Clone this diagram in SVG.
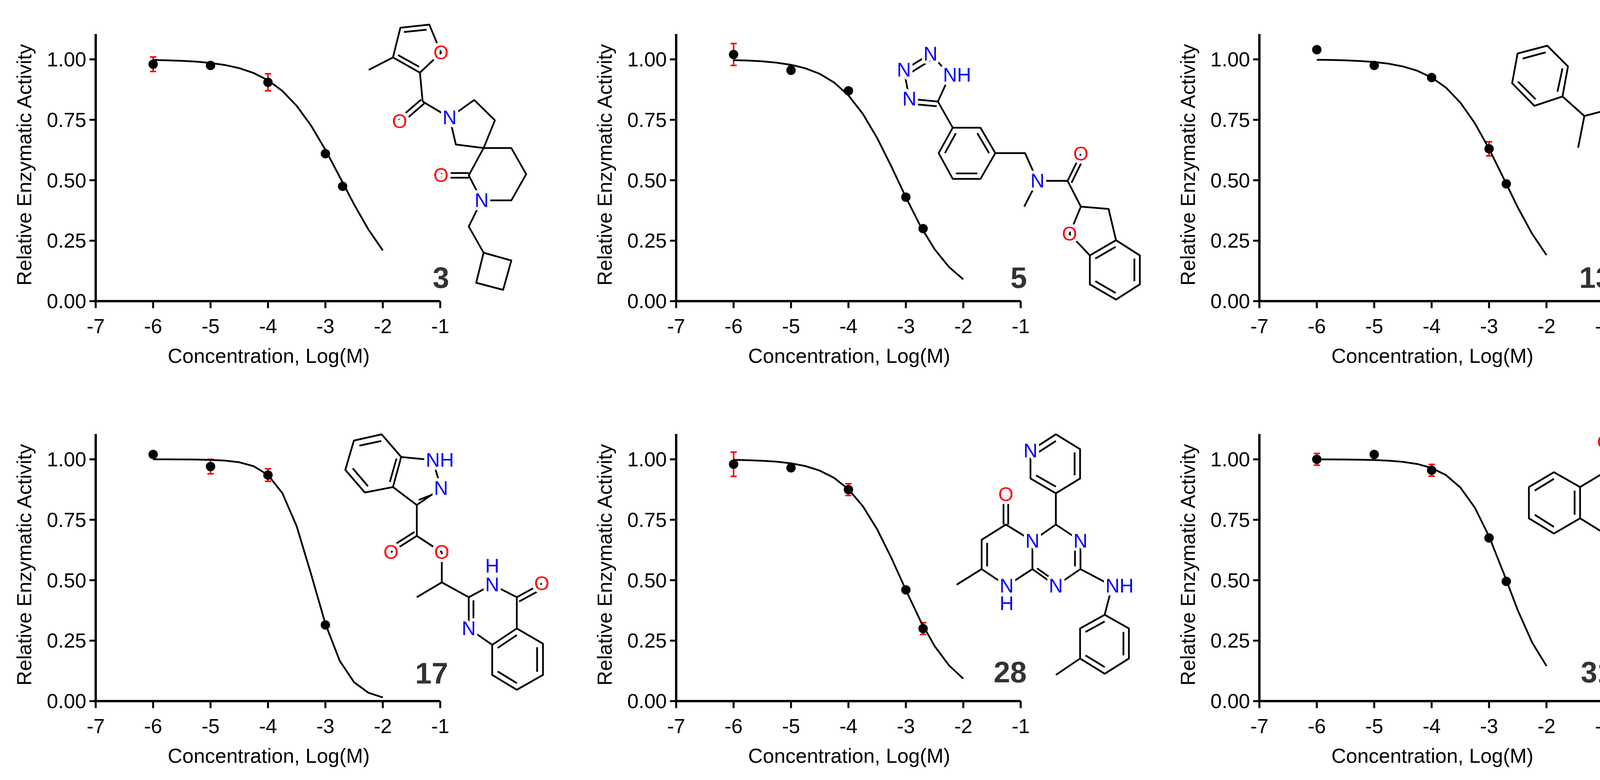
<svg xmlns="http://www.w3.org/2000/svg" width="4451" height="1997" viewBox="0 0 4451 1997">
<style>
text{font-family:"Liberation Sans",Arial,sans-serif}
.ax{stroke:#000;stroke-width:6;fill:none}
.tk{stroke:#000;stroke-width:5;fill:none}
.tl{font-size:52px;fill:#000}
.ty{text-anchor:end}
.tx{text-anchor:middle}
.tt{font-size:52px;text-anchor:middle;fill:#000}
.num{font-size:76px;font-weight:bold;fill:#333;text-anchor:middle}
.cv{stroke:#000;stroke-width:4.5;fill:none}
.eb{stroke:#f00;stroke-width:4;fill:none}
.dot{fill:#000}
.bd{stroke:#000;stroke-width:4.5;fill:none;stroke-linejoin:round}
.at{font-size:50px;dominant-baseline:central;stroke:#fff;stroke-width:16px;paint-order:stroke;stroke-linejoin:round}
.N{fill:#00f}.O{fill:#f00}
.m{text-anchor:middle}.s{text-anchor:start}.e{text-anchor:end}
</style>
<defs>
<g id="axes">
<path class="ax" d="M0,-684V0H882"/>
<path class="tk" d="M-16,0H0M-16,-154.75H0M-16,-309.5H0M-16,-464.25H0M-16,-619H0M0,0V18M147,0V18M294,0V18M441,0V18M588,0V18M735,0V18M882,0V18"/>
<g class="tl ty">
<text x="-24" y="18">0.00</text><text x="-24" y="-136.75">0.25</text><text x="-24" y="-291.5">0.50</text><text x="-24" y="-446.25">0.75</text><text x="-24" y="-601">1.00</text>
</g>
<g class="tl tx">
<text x="0" y="82">-7</text><text x="147" y="82">-6</text><text x="294" y="82">-5</text><text x="441" y="82">-4</text><text x="588" y="82">-3</text><text x="735" y="82">-2</text><text x="882" y="82">-1</text>
</g>
<text class="tt" x="443" y="158">Concentration, Log(M)</text>
<text class="tt" transform="translate(-165,-349) rotate(-90)">Relative Enzymatic Activity</text>
</g>
</defs>

<g id="panel-3" transform="translate(245,771)">
<use href="#axes"/>
<path class="eb" d="M147,-625.2V-588M139,-625.2H155M139,-588H155M441,-581.9V-538.5M433,-581.9H449M433,-538.5H449"/>
<path class="cv" d="M147,-617.5L183.75,-616.6L220.5,-615.3L257.25,-613.2L294,-609.8L330.75,-604.6L367.5,-596.5L404.25,-584.1L441,-565.5L477.75,-538.3L514.5,-500L551.25,-449.5L588,-387.6L624.75,-318.1L661.5,-247.6L698.25,-183.3L735,-129.9"/>
<g class="dot"><circle cx="147" cy="-606.6" r="12"/><circle cx="294" cy="-603.5" r="12"/><circle cx="441" cy="-560.2" r="12"/><circle cx="588" cy="-377.6" r="12"/><circle cx="632.1" cy="-294" r="12"/></g>
<text class="num" x="884" y="-34">3</text>
</g>

<g id="panel-5" transform="translate(1731,771)">
<use href="#axes"/>
<path class="eb" d="M147,-659.4V-603.4M139,-659.4H155M139,-603.4H155M294,-603.1V-579.1M286,-603.1H302"/>
<path class="cv" d="M147,-617.1L183.75,-615.9L220.5,-613.9L257.25,-610.5L294,-605L330.75,-596.2L367.5,-582L404.25,-560L441,-526.8L477.75,-479.7L514.5,-417.7L551.25,-343.9L588,-266L624.75,-193.3L661.5,-133L698.25,-87.6L735,-55.9"/>
<g class="dot"><circle cx="147" cy="-631.4" r="12"/><circle cx="294" cy="-591.1" r="12"/><circle cx="441" cy="-538.5" r="12"/><circle cx="588" cy="-266.2" r="12"/><circle cx="632.1" cy="-185.7" r="12"/></g>
<text class="num" x="877" y="-34">5</text>
</g>

<g id="panel-13" transform="translate(3224,771)">
<use href="#axes"/>
<path class="eb" d="M588,-408V-372M580,-408H596M580,-372H596"/>
<path class="cv" d="M147,-618.1L183.75,-617.5L220.5,-616.5L257.25,-614.8L294,-612.2L330.75,-607.9L367.5,-600.9L404.25,-589.9L441,-572.6L477.75,-546.5L514.5,-508.3L551.25,-456.1L588,-390.3L624.75,-315.5L661.5,-240.1L698.25,-172.5L735,-118"/>
<g class="dot"><circle cx="147" cy="-643.8" r="12"/><circle cx="294" cy="-603.5" r="12"/><circle cx="441" cy="-572.6" r="12"/><circle cx="588" cy="-390" r="12"/><circle cx="632.1" cy="-300.2" r="12"/></g>
<text class="num" x="861" y="-34">13</text>
</g>

<g id="panel-17" transform="translate(245,1795)">
<use href="#axes"/>
<path class="eb" d="M294,-619V-581.8M286,-619H302M286,-581.8H302M441,-594.8V-562.8M433,-594.8H449M433,-562.8H449"/>
<path class="cv" d="M147,-619L183.75,-618.9L220.5,-618.8L257.25,-618.4L294,-617.6L330.75,-615.8L367.5,-611.5L404.25,-601.5L441,-579.1L477.75,-532.6L514.5,-447.7L551.25,-325.5L588,-197.9L624.75,-103L661.5,-48.2L698.25,-21.4L735,-9.3"/>
<g class="dot"><circle cx="147" cy="-631.4" r="12"/><circle cx="294" cy="-600.4" r="12"/><circle cx="441" cy="-578.8" r="12"/><circle cx="588" cy="-195" r="12"/></g>
<text class="num" x="860" y="-45">17</text>
</g>

<g id="panel-28" transform="translate(1731,1795)">
<use href="#axes"/>
<path class="eb" d="M147,-637.6V-575.6M139,-637.6H155M139,-575.6H155M441,-556.6V-526.6M433,-556.6H449M433,-526.6H449M632.1,-200.7V-170.7M624,-200.7H640M624,-170.7H640"/>
<path class="cv" d="M147,-617.8L183.75,-616.8L220.5,-615.3L257.25,-612.9L294,-608.7L330.75,-601.7L367.5,-590.1L404.25,-571.5L441,-542.4L477.75,-499.2L514.5,-439.8L551.25,-365.9L588,-284.6L624.75,-206.7L661.5,-141.1L698.25,-91.7L735,-57.4"/>
<g class="dot"><circle cx="147" cy="-606.6" r="12"/><circle cx="294" cy="-597.3" r="12"/><circle cx="441" cy="-541.6" r="12"/><circle cx="588" cy="-284.7" r="12"/><circle cx="632.1" cy="-185.7" r="12"/></g>
<text class="num" x="855" y="-48">28</text>
</g>

<g id="panel-31" transform="translate(3224,1795)">
<use href="#axes"/>
<path class="eb" d="M147,-634V-604M139,-634H155M139,-604H155M441,-606.1V-576.1M433,-606.1H449M433,-576.1H449"/>
<path class="cv" d="M147,-618.9L183.75,-618.8L220.5,-618.5L257.25,-618L294,-617.2L330.75,-615.6L367.5,-612.6L404.25,-607.1L441,-596.8L477.75,-578.5L514.5,-546.9L551.25,-495.9L588,-421.7L624.75,-329.1L661.5,-232.7L698.25,-150L735,-89.9"/>
<g class="dot"><circle cx="147" cy="-619" r="12"/><circle cx="294" cy="-631.4" r="12"/><circle cx="441" cy="-591.1" r="12"/><circle cx="588" cy="-417.8" r="12"/><circle cx="632.1" cy="-306.4" r="12"/></g>
<text class="num" x="865" y="-48">31</text>
</g>

<g id="mol-3">
<path class="bd" d="M944,179L1006,147M1006,147L1025,71L1099,63L1129,135L1075,186L1006,147M1034,82L1092,76M1019,141L1073,171M1075,186L1082,260M1086,265L1027,316M1078,255L1019,306M1082,260L1151,301M1151,301L1214,256L1267,308L1238,379L1167,370L1151,301M1238,379L1309,379L1347,446L1309,513L1233,513L1200,449L1238,379M1200,443L1129,443M1200,455L1129,455M1233,513L1200,580L1238,647M1238,647L1309,667L1288,742L1219,724Z"/>
<text class="at O m" x="1129" y="135">O</text><text class="at O m" x="1023" y="311">O</text><text class="at N m" x="1151" y="301">N</text><text class="at O m" x="1129" y="449">O</text><text class="at N m" x="1233" y="513">N</text>
</g>

<g id="mol-5">
<path class="bd" d="M2382,138L2432,192L2401,260L2328,253L2314,179L2382,138M2398,272L2332,266M2325,190L2386,152M2401,260L2439,327M2439,327L2510,327L2548,392L2510,458L2439,458L2403,392Z M2502,341L2532,392M2502,444L2447,444M2419,392L2447,341M2548,392L2624,392L2656,463M2656,463L2622,529M2656,463L2733,463M2733,463L2767,394M2743,468L2777,399M2733,463L2767,529L2838,535L2857,615M2767,529L2738,599L2790,654M2857,615L2918,654L2918,728L2857,767L2790,728L2790,654Z M2904,662L2904,720M2856,750L2804,720M2804,662L2856,632"/>
<text class="at N m" x="2382" y="138">N</text><text class="at N m" x="2314" y="179">N</text><text class="at N m" x="2328" y="253">N</text><text class="at N s" x="2414" y="192">NH</text><text class="at N m" x="2656" y="463">N</text><text class="at O m" x="2767" y="394">O</text><text class="at O m" x="2738" y="599">O</text>
</g>

<g id="mol-13">
<path class="bd" d="M4151,63L4222,63L4260,133L4222,204L4151,204L4113,133Z M4159,78L4214,78M4244,133L4214,189M4159,189L4129,133M4151,204L4125,279L4184,308L4246,279L4222,204M4188,318L4250,289M4184,308L4187,404M4187,404L4251,436L4315,404M4255,446L4319,414M4251,436L4251,516L4318,564L4284,638L4213,638L4189,561L4251,516M4284,638L4329,704M4292,632L4337,698M4125,279L4056,297L4040,378M4056,297L4000,247M4000,247L4014,170L3961,117L3885,137L3871,213L3928,271Z M3987,235L4000,175M3957,134L3898,150M3886,209L3931,254"/>
<text class="at N m" x="4125" y="279">N</text><text class="at N m" x="4246" y="279">N</text><text class="at N e" x="4205" y="404">HN</text><text class="at N s" x="4300" y="564">NH</text><text class="at O m" x="4315" y="404">O</text><text class="at O m" x="4329" y="704">O</text>
</g>

<g id="mol-17">
<path class="bd" d="M977,1112L906,1128L884,1203L934,1261L1006,1247L1027,1170Z M976,1129L920,1141M903,1199L942,1245M998,1234L1015,1174M1027,1170L1108,1178L1129,1250L1067,1293L1006,1247M1118,1262L1072,1280M1067,1293L1067,1372L1001,1414M1061,1362L995,1404M1067,1372L1131,1414L1131,1491L1067,1529M1131,1491L1200,1529L1260,1497L1323,1529L1387,1494M1329,1540L1393,1505M1323,1529L1323,1609M1200,1529L1200,1609M1212,1537L1212,1600M1200,1609L1260,1651M1323,1609L1390,1648L1390,1728L1323,1766L1260,1728L1260,1651Z M1375,1657L1375,1720M1323,1749L1274,1719M1274,1659L1323,1626"/>
<text class="at N s" x="1090" y="1178">NH</text><text class="at N m" x="1129" y="1250">N</text><text class="at N m" x="1260" y="1449">H</text><text class="at N m" x="1260" y="1497">N</text><text class="at N m" x="1200" y="1609">N</text><text class="at O m" x="1001" y="1414">O</text><text class="at O m" x="1131" y="1414">O</text><text class="at O m" x="1387" y="1494">O</text>
</g>

<g id="mol-28">
<path class="bd" d="M2638,1154L2703,1112L2765,1150L2765,1225L2703,1263L2638,1225Z M2652,1162L2703,1129M2751,1158L2751,1217M2703,1246L2652,1217M2703,1263L2703,1343L2643,1385M2703,1343L2766,1385M2643,1385L2575,1343L2513,1382L2513,1457L2577,1500L2643,1457L2643,1385M2527,1390L2527,1450M2569,1343L2569,1266M2581,1343L2581,1266M2513,1457L2449,1497M2643,1457L2703,1500L2766,1457L2766,1385M2655,1455L2700,1487M2752,1395L2752,1450M2766,1457L2847,1500L2828,1574M2828,1574L2890,1609L2890,1686L2828,1725L2765,1686L2765,1609Z M2828,1591L2779,1618M2876,1618L2876,1678M2828,1708L2779,1678M2765,1686L2703,1728"/>
<text class="at N m" x="2638" y="1154">N</text><text class="at N m" x="2643" y="1385">N</text><text class="at N m" x="2766" y="1385">N</text><text class="at N m" x="2577" y="1500">N</text><text class="at N m" x="2577" y="1545">H</text><text class="at N m" x="2703" y="1500">N</text><text class="at N s" x="2830" y="1500">NH</text><text class="at O m" x="2575" y="1266">O</text>
</g>

<g id="mol-31">
<path class="bd" d="M4102,1209L4102,1132M4114,1209L4114,1132M4108,1209L4170,1250L4170,1327L4108,1366L4045,1327L4045,1247L4108,1209M4112,1352L4160,1321M4045,1247L3978,1209L3914,1247L3914,1327L3978,1366L4045,1327M3978,1226L3929,1256M3929,1318L3978,1349M4031,1256L4031,1318M4170,1250L4237,1209L4237,1132M4237,1209L4298,1250M4108,1366L4107,1443L4170,1484L4232,1446M4166,1472L4228,1434M4170,1484L4170,1561L4235,1600M4235,1600L4296,1561L4360,1600L4360,1680L4296,1718L4235,1680Z M4249,1609L4296,1578M4346,1609L4346,1671M4296,1701L4249,1671M4360,1600L4426,1561"/>
<text class="at N m" x="4170" y="1250">N</text><text class="at N m" x="4170" y="1327">N</text><text class="at N e" x="4192" y="1561">HN</text><text class="at N m" x="4296" y="1561">N</text><text class="at O m" x="4108" y="1132">O</text><text class="at O m" x="4232" y="1446">O</text>
</g>
</svg>
